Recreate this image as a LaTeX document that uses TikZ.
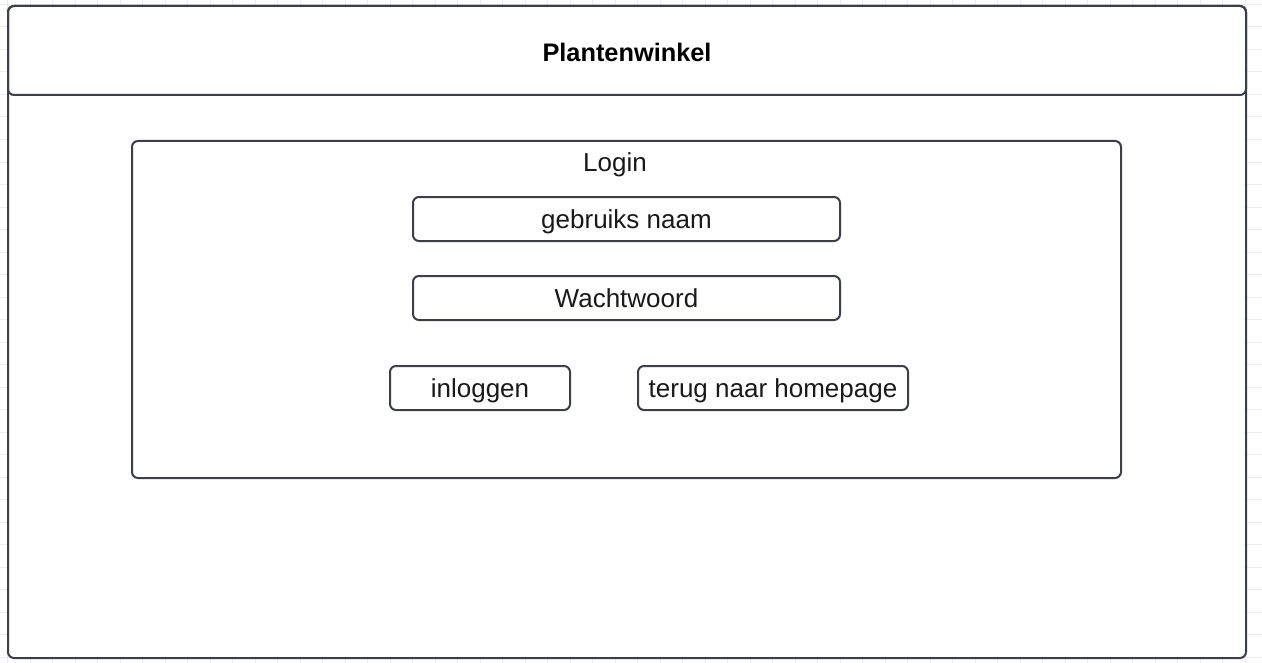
\documentclass[tikz,border=0pt]{standalone}
\usepackage{fontspec}
\setmainfont{Liberation Sans}
\usetikzlibrary{positioning}
\definecolor{linecol}{HTML}{3A3F4A}
\definecolor{gridcol}{HTML}{EBEBF0}

\begin{document}
\begin{tikzpicture}[x=0.75pt,y=-0.75pt,
  frame/.style={draw=linecol,line width=1.5pt,rounded corners=4.5pt},
  label/.style={font=\fontsize{19.5}{23}\selectfont,text=black!90},
  field/.style={frame,label,minimum height=33pt,inner sep=0pt,text height=17pt,text depth=3.5pt}]
  \useasboundingbox (0,0) rectangle (1262,663);

  %grid
  \foreach \gx in {7.5,30,...,1262} \draw[gridcol,line width=0.75pt] (\gx,0) -- (\gx,663);
  \foreach \gy in {4.5,27,...,663} \draw[gridcol,line width=0.75pt] (0,\gy) -- (1262,\gy);

  %window
  \draw[frame,fill=white] (8,6) rectangle (1246,658);

  %header
  \draw[frame] (8,6) rectangle (1246,95);
  \node[font=\fontsize{19}{23}\selectfont\bfseries] (title) at (627,52) {Plantenwinkel};

  %login panel
  \draw[frame] (132,141) rectangle (1121,478);
  \node[label] (login) at (615,165) {Login};

  %fields
  \node[field,minimum width=320.25pt] (naam) at (626.5,219) {gebruiks naam};
  \node[field,minimum width=320.25pt,below=24.75pt of naam] (wachtwoord) {Wachtwoord};

  %buttons
  \node[field,minimum width=135pt] (inloggen) at (480,388) {inloggen};
  \node[field,minimum width=202.5pt,right=49.5pt of inloggen] (terug) {terug naar homepage};
\end{tikzpicture}
\end{document}
